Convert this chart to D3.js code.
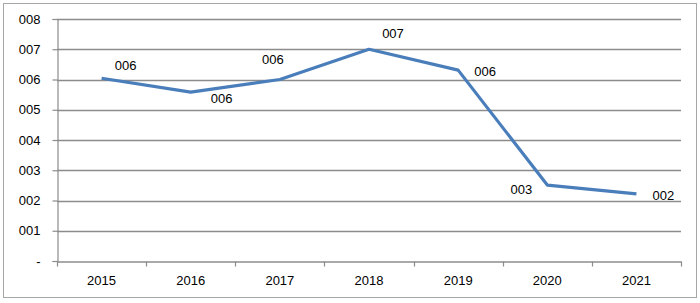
<!DOCTYPE html>
<html>
<head>
<meta charset="utf-8">
<script src="https://cdn.jsdelivr.net/npm/d3@7"></script>
<style>
  body { margin: 0; background: #fff; }
  svg { display: block; }
  text { font-family: "Liberation Sans", Arial, sans-serif; font-size: 13px; fill: #000; }
</style>
</head>
<body>
<div id="chart"></div>
<script>
// chart values
const years = ["2015", "2016", "2017", "2018", "2019", "2020", "2021"];
const values = [6.04, 5.58, 6.0, 7.0, 6.31, 2.51, 2.22];
const valueLabels = ["006", "006", "006", "007", "006", "003", "002"];
const yTicks = [0, 1, 2, 3, 4, 5, 6, 7, 8];
const yTickLabels = ["-", "001", "002", "003", "004", "005", "006", "007", "008"];

// hand-placed label offsets (dx, dy from the point), like the original
const labelOffsets = [[24, -13], [31, 6], [-7, -20], [24, -16], [27, 1], [-26, 4], [27, 2]];

const width = 700, height = 303;
const margin = { top: 19, right: 19, bottom: 42, left: 57 };

const svg = d3.select("#chart").append("svg")
    .attr("width", width)
    .attr("height", height);

// outer frame
svg.append("rect")
    .attr("x", 3.5).attr("y", 3.5)
    .attr("width", 693).attr("height", 294)
    .attr("fill", "#fff")
    .attr("stroke", "#a6a6a6")
    .attr("stroke-width", 1);

const x = d3.scaleBand()
    .domain(years)
    .range([margin.left, width - margin.right]);

const y = d3.scaleLinear()
    .domain([0, 8])
    .range([height - margin.bottom, margin.top]);

// gridlines
svg.append("g")
    .selectAll("line")
    .data(yTicks.slice(1))
    .join("line")
    .attr("x1", margin.left)
    .attr("x2", width - margin.right)
    .attr("y1", d => Math.round(y(d)) + 0.5)
    .attr("y2", d => Math.round(y(d)) + 0.5)
    .attr("stroke", "#8c8c8c")
    .attr("stroke-width", 1.5);

// y axis
const yAxis = d3.axisLeft(y)
    .tickValues(yTicks)
    .tickFormat((d, i) => yTickLabels[i])
    .tickSize(5)
    .tickPadding(12);

svg.append("g")
    .attr("transform", `translate(${margin.left + 0.5},0)`)
    .call(yAxis)
    .call(g => g.selectAll("path,line").attr("stroke", "#8c8c8c").attr("stroke-width", 1.2))
    .call(g => g.selectAll("text").attr("font-size", 13).attr("font-family", null));

// x axis
const xAxis = d3.axisBottom(x)
    .tickSize(0)
    .tickPadding(14);

const xg = svg.append("g")
    .attr("transform", `translate(0,${Math.round(y(0)) + 0.5})`)
    .call(xAxis)
    .call(g => g.select(".domain").attr("stroke", "#8c8c8c").attr("stroke-width", 1.5))
    .call(g => g.selectAll("text").attr("font-size", 13).attr("font-family", null));

// category boundary ticks
xg.append("g")
    .selectAll("line")
    .data(years.map(d => x(d)).concat([x.range()[1]]))
    .join("line")
    .attr("x1", d => Math.round(d) + 0.5)
    .attr("x2", d => Math.round(d) + 0.5)
    .attr("y1", 0)
    .attr("y2", 5)
    .attr("stroke", "#8c8c8c")
    .attr("stroke-width", 1.2);

// line
const line = d3.line()
    .x((d, i) => x(years[i]) + x.bandwidth() / 2)
    .y(d => y(d));

svg.append("path")
    .datum(values)
    .attr("d", line)
    .attr("fill", "none")
    .attr("stroke", "#4a7ebb")
    .attr("stroke-width", 3.2)
    .attr("stroke-linejoin", "round");

// data labels
svg.append("g")
    .selectAll("text")
    .data(values)
    .join("text")
    .attr("x", (d, i) => x(years[i]) + x.bandwidth() / 2 + labelOffsets[i][0])
    .attr("y", (d, i) => y(d) + labelOffsets[i][1])
    .attr("text-anchor", "middle")
    .attr("dominant-baseline", "central")
    .text((d, i) => valueLabels[i]);
</script>
</body>
</html>
